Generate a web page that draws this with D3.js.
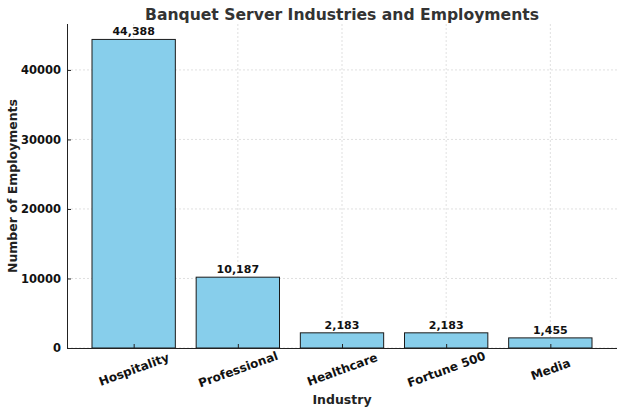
<!DOCTYPE html>
<html>
<head>
<meta charset="utf-8">
<script src="https://cdn.jsdelivr.net/npm/d3@7"></script>
<style>
  body { margin: 0; background: #fff; }
  text { font-family: "DejaVu Sans", sans-serif; font-weight: bold; }
</style>
</head>
<body>
<div id="chart-area"></div>
<script>
// data
var industries = ["Hospitality", "Professional", "Healthcare", "Fortune 500", "Media"];
var employments = [44388, 10187, 2183, 2183, 1455];
var yTicks = [0, 10000, 20000, 30000, 40000];

var W = 623, H = 413;
var margin = {left: 67, right: 6, top: 24, bottom: 65};
var iw = W - margin.left - margin.right,
    ih = H - margin.top - margin.bottom;

var svg = d3.select("#chart-area")
    .append("svg")
    .attr("width", W)
    .attr("height", H);

var g = svg.append("g")
    .attr("transform", "translate(" + margin.left + "," + margin.top + ")");

// categorical positions like matplotlib: 0..n-1, bar width 0.8, 5% margins
var n = industries.length;
var lo = -0.4, hi = n - 1 + 0.4, pad = (hi - lo) * 0.05;
var x = d3.scaleLinear()
    .domain([lo - pad, hi + pad])
    .range([0, iw]);
var bw = x(0.8) - x(0);

var y = d3.scaleLinear()
    .domain([0, d3.max(employments) * 1.05])
    .range([ih, 0]);

// grid
g.selectAll(".hgrid")
    .data(yTicks)
    .enter()
    .append("line")
    .attr("x1", 0).attr("x2", iw)
    .attr("y1", d => y(d)).attr("y2", d => y(d))
    .attr("stroke", "#c8c8c8")
    .attr("stroke-opacity", 0.7)
    .attr("stroke-width", 0.8)
    .attr("stroke-dasharray", "2,2");

g.selectAll(".vgrid")
    .data(industries)
    .enter()
    .append("line")
    .attr("x1", (d, i) => x(i)).attr("x2", (d, i) => x(i))
    .attr("y1", 0).attr("y2", ih)
    .attr("stroke", "#c8c8c8")
    .attr("stroke-opacity", 0.7)
    .attr("stroke-width", 0.8)
    .attr("stroke-dasharray", "2,2");

// bars
g.selectAll("rect")
    .data(employments)
    .enter()
    .append("rect")
    .attr("x", (d, i) => x(i) - bw / 2)
    .attr("y", d => y(d))
    .attr("width", bw)
    .attr("height", d => ih - y(d))
    .attr("fill", "#87ceeb")
    .attr("stroke", "#1a1a1a")
    .attr("stroke-width", 1);

// value labels
g.selectAll(".val")
    .data(employments)
    .enter()
    .append("text")
    .attr("x", (d, i) => x(i))
    .attr("y", d => y(d) - 4)
    .attr("text-anchor", "middle")
    .attr("font-size", "11px")
    .attr("fill", "#111")
    .text(d => d3.format(",")(d));

// axes
var yAxis = d3.axisLeft(y)
    .tickValues(yTicks)
    .tickFormat(d3.format("d"))
    .tickSizeInner(-4)
    .tickSizeOuter(0)
    .tickPadding(6);
var ya = g.append("g").call(yAxis);
ya.select(".domain").attr("stroke", "#222").attr("stroke-width", 1)
    .attr("d", "M0.5," + ih + "V0");
ya.selectAll("text").attr("font-size", "11.5px").attr("fill", "#111")
    .style("font-family", "DejaVu Sans").style("font-weight", "bold");
ya.selectAll(".tick line").attr("stroke", "#222");

var xAxis = d3.axisBottom(x)
    .tickValues(d3.range(n))
    .tickFormat(i => industries[i])
    .tickSizeInner(-4)
    .tickSizeOuter(0)
    .tickPadding(0);
var xa = g.append("g")
    .attr("transform", "translate(0," + ih + ")")
    .call(xAxis);
xa.select(".domain").attr("stroke", "#222").attr("stroke-width", 1)
    .attr("d", "M0,0.5H" + iw);
xa.selectAll(".tick line").attr("stroke", "#222");
xa.selectAll("text")
    .attr("font-size", "12px")
    .attr("fill", "#111")
    .style("font-family", "DejaVu Sans").style("font-weight", "bold")
    .attr("text-anchor", "middle")
    .attr("dy", null)
    .attr("y", 0)
    .attr("transform", "translate(0,22) rotate(-20)")
    .attr("dominant-baseline", "middle");

// title and axis labels
svg.append("text")
    .attr("x", margin.left + iw / 2)
    .attr("y", 19.5)
    .attr("text-anchor", "middle")
    .attr("font-size", "15.6px")
    .attr("fill", "#333")
    .text("Banquet Server Industries and Employments");

svg.append("text")
    .attr("x", margin.left + iw / 2)
    .attr("y", 404)
    .attr("text-anchor", "middle")
    .attr("font-size", "12.5px")
    .attr("fill", "#222")
    .text("Industry");

svg.append("text")
    .attr("transform", "translate(17," + (margin.top + ih / 2) + ") rotate(-90)")
    .attr("text-anchor", "middle")
    .attr("font-size", "12.5px")
    .attr("fill", "#222")
    .text("Number of Employments");
</script>
</body>
</html>
